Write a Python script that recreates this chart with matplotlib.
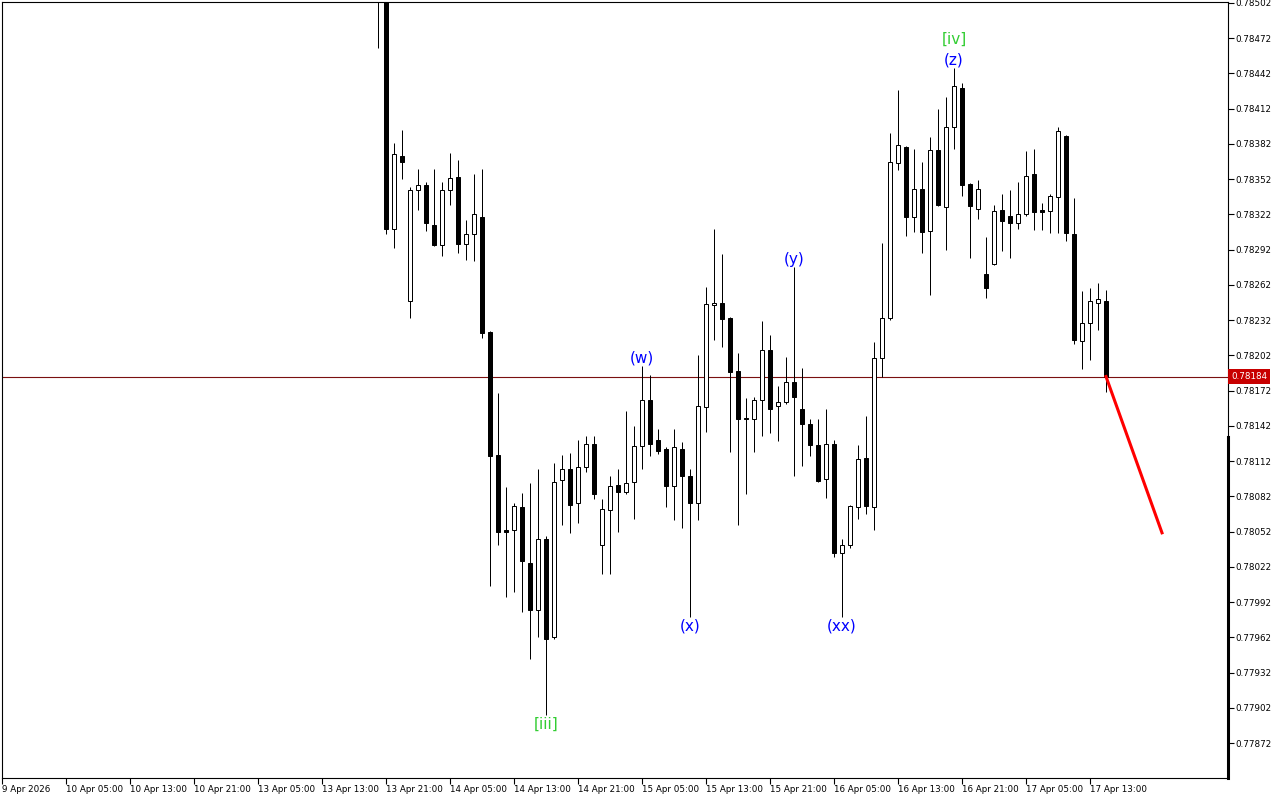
import matplotlib
matplotlib.use("Agg")
import matplotlib.pyplot as plt
import numpy as np

# H1 candles, bar index counted from the first bar on screen (9 Apr 2026)
first_bar = 47
opens = [0.78560, 0.78570, 0.78310, 0.78372, 0.78248, 0.78343, 0.78347, 0.78313, 0.78296, 0.78343,
         0.78354, 0.78297, 0.78305, 0.78320, 0.78222, 0.78117, 0.78053, 0.78053, 0.78073, 0.78025,
         0.77985, 0.78046, 0.77962, 0.78096, 0.78105, 0.78076, 0.78107, 0.78127, 0.78041, 0.78070,
         0.78092, 0.78086, 0.78094, 0.78125, 0.78164, 0.78130, 0.78122, 0.78091, 0.78122, 0.78099,
         0.78076, 0.78158, 0.78245, 0.78247, 0.78234, 0.78189, 0.78149, 0.78148, 0.78164, 0.78207,
         0.78159, 0.78162, 0.78179, 0.78156, 0.78144, 0.78126, 0.78097, 0.78127, 0.78034, 0.78041,
         0.78073, 0.78115, 0.78073, 0.78200, 0.78234, 0.78366, 0.78379, 0.78320, 0.78344, 0.78308,
         0.78377, 0.78328, 0.78396, 0.78430, 0.78348, 0.78327, 0.78271, 0.78280, 0.78326, 0.78321,
         0.78315, 0.78322, 0.78356, 0.78326, 0.78325, 0.78337, 0.78389, 0.78305, 0.78214, 0.78230,
         0.78247, 0.78248]
highs = [0.78620, 0.78590, 0.78383, 0.78394, 0.78345, 0.78361, 0.78350, 0.78361, 0.78350, 0.78374,
         0.78368, 0.78317, 0.78356, 0.78361, 0.78223, 0.78170, 0.78090, 0.78076, 0.78085, 0.78093,
         0.78105, 0.78048, 0.78110, 0.78117, 0.78119, 0.78130, 0.78133, 0.78133, 0.78080, 0.78099,
         0.78105, 0.78155, 0.78142, 0.78193, 0.78185, 0.78139, 0.78124, 0.78139, 0.78128, 0.78105,
         0.78202, 0.78260, 0.78310, 0.78288, 0.78235, 0.78204, 0.78166, 0.78167, 0.78231, 0.78219,
         0.78176, 0.78201, 0.78277, 0.78191, 0.78148, 0.78148, 0.78156, 0.78130, 0.78046, 0.78075,
         0.78126, 0.78150, 0.78213, 0.78298, 0.78391, 0.78428, 0.78380, 0.78378, 0.78367, 0.78388,
         0.78412, 0.78422, 0.78447, 0.78434, 0.78349, 0.78351, 0.78303, 0.78330, 0.78339, 0.78343,
         0.78350, 0.78376, 0.78378, 0.78332, 0.78339, 0.78396, 0.78390, 0.78336, 0.78257, 0.78259,
         0.78264, 0.78258]
lows = [0.78464, 0.78305, 0.78293, 0.78352, 0.78234, 0.78326, 0.78308, 0.78295, 0.78287, 0.78330,
        0.78289, 0.78283, 0.78282, 0.78217, 0.78006, 0.78041, 0.77996, 0.78001, 0.77984, 0.77944,
        0.77962, 0.77896, 0.77961, 0.78058, 0.78051, 0.78059, 0.78103, 0.78080, 0.78016, 0.78016,
        0.78052, 0.78084, 0.78063, 0.78105, 0.78116, 0.78118, 0.78073, 0.78062, 0.78055, 0.77979,
        0.78062, 0.78137, 0.78215, 0.78209, 0.78120, 0.78058, 0.78084, 0.78120, 0.78133, 0.78136,
        0.78129, 0.78161, 0.78099, 0.78108, 0.78116, 0.78094, 0.78081, 0.78030, 0.77979, 0.78038,
        0.78063, 0.78067, 0.78053, 0.78184, 0.78232, 0.78360, 0.78304, 0.78307, 0.78289, 0.78253,
        0.78329, 0.78292, 0.78378, 0.78338, 0.78285, 0.78318, 0.78251, 0.78279, 0.78291, 0.78285,
        0.78310, 0.78321, 0.78309, 0.78309, 0.78306, 0.78306, 0.78299, 0.78212, 0.78190, 0.78198,
        0.78224, 0.78171]
closes = [0.78600, 0.78310, 0.78373, 0.78367, 0.78343, 0.78347, 0.78315, 0.78296, 0.78343, 0.78353,
          0.78297, 0.78305, 0.78322, 0.78221, 0.78116, 0.78052, 0.78052, 0.78074, 0.78027, 0.77985,
          0.78046, 0.77961, 0.78094, 0.78105, 0.78075, 0.78107, 0.78127, 0.78084, 0.78071, 0.78091,
          0.78086, 0.78093, 0.78125, 0.78164, 0.78127, 0.78121, 0.78091, 0.78124, 0.78099, 0.78076,
          0.78159, 0.78246, 0.78247, 0.78233, 0.78188, 0.78148, 0.78148, 0.78164, 0.78207, 0.78156,
          0.78162, 0.78179, 0.78167, 0.78144, 0.78126, 0.78095, 0.78127, 0.78034, 0.78041, 0.78074,
          0.78114, 0.78074, 0.78200, 0.78234, 0.78367, 0.78381, 0.78320, 0.78344, 0.78307, 0.78377,
          0.78330, 0.78396, 0.78431, 0.78347, 0.78329, 0.78344, 0.78259, 0.78325, 0.78316, 0.78315,
          0.78322, 0.78355, 0.78324, 0.78324, 0.78338, 0.78393, 0.78306, 0.78215, 0.78230, 0.78248,
          0.78250, 0.78184]

bid = 0.78184
proj_x = [138, 145]
proj_y = [0.78184, 0.78051]

wave_text = ['[iii]', '(w)', '(x)', '(y)', '(xx)', '[iv]', '(z)']
wave_bar = [68, 80, 86, 99, 105, 119, 119]
wave_top = [False, True, False, True, False, True, True]
wave_gap = [9, 8, 9, 8, 9, 28, 8]   # pixels from the wick end
wave_color = ['#32cd32', 'blue', 'blue', 'blue', 'blue', '#32cd32', 'blue']

time_labels = ['9 Apr 2026', '10 Apr 05:00', '10 Apr 13:00', '10 Apr 21:00', '13 Apr 05:00',
               '13 Apr 13:00', '13 Apr 21:00', '14 Apr 05:00', '14 Apr 13:00', '14 Apr 21:00',
               '15 Apr 05:00', '15 Apr 13:00', '15 Apr 21:00', '16 Apr 05:00', '16 Apr 13:00',
               '16 Apr 21:00', '17 Apr 05:00', '17 Apr 13:00']
price_ticks = [0.77872, 0.77902, 0.77932, 0.77962, 0.77992, 0.78022, 0.78052, 0.78082, 0.78112,
               0.78142, 0.78172, 0.78202, 0.78232, 0.78262, 0.78292, 0.78322, 0.78352, 0.78382,
               0.78412, 0.78442, 0.78472, 0.78502]

o = np.array(opens)
h = np.array(highs)
l = np.array(lows)
c = np.array(closes)
x = np.arange(first_bar, first_bar + len(o))
px = 0.72  # one pixel in points at dpi 100

fig = plt.figure(figsize=(12.8, 8), dpi=100)
ax = fig.add_axes([2 / 1280, 22 / 800, 1226 / 1280, 776 / 800])

ax.vlines(x, l, h, color='black', linewidth=px, zorder=2)
up = c >= o
body_lo = np.minimum(o, c)
body_h = np.abs(c - o)
ax.bar(x[up], body_h[up], bottom=body_lo[up], width=0.5, facecolor='white',
       edgecolor='black', linewidth=px, zorder=3)
ax.bar(x[~up], body_h[~up], bottom=body_lo[~up], width=0.5, facecolor='black',
       edgecolor='black', linewidth=px, zorder=3)

ax.axhline(bid, color='#7a1010', linewidth=0.8, zorder=1)
ax.plot(proj_x, proj_y, color='red', linewidth=2.2, zorder=4)

for txt, b, top, gap, col in zip(wave_text, wave_bar, wave_top, wave_gap, wave_color):
    i = b - first_bar
    yv = h[i] if top else l[i]
    dy = gap * px if top else -gap * px
    ax.annotate(txt, xy=(b, yv), xytext=(0, dy), textcoords='offset points',
                ha='center', va='center', fontsize=11, color=col, zorder=5)

ax.set_xlim(0, 153.25)
ax.set_ylim(0.778423, 0.785028)

ax.set_xticks(np.arange(len(time_labels)) * 8)
ax.set_xticklabels(time_labels, ha='left', fontsize=6.3)
ax.tick_params(axis='x', direction='out', length=4, width=0.8, pad=1)

ax.yaxis.tick_right()
ax.set_yticks(price_ticks)
ax.set_yticklabels(['%.5f' % p for p in price_ticks], fontsize=6.3)
ax.tick_params(axis='y', direction='out', length=4, width=0.8, pad=1)

for s in ax.spines.values():
    s.set_linewidth(0.8)
# thicker lower part of the price scale edge
ax.plot([1.0, 1.0], [0.0, 0.44], transform=ax.transAxes, color='black',
        linewidth=2.2, clip_on=False, zorder=6)

ax.text(1.0025, bid, '%.5f' % bid, transform=ax.get_yaxis_transform(), fontsize=6.3,
        color='white', ha='left', va='center',
        bbox=dict(boxstyle='square,pad=0.3', facecolor='#c80000', edgecolor='none'))

fig.savefig('out.png', dpi=100)
